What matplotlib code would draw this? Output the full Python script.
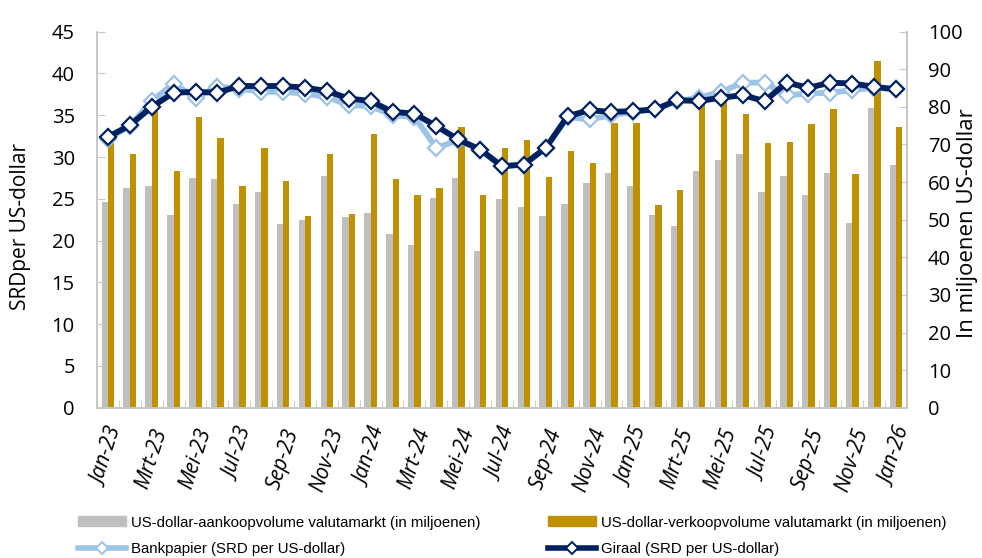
import numpy as np
import matplotlib
matplotlib.use("Agg")
import matplotlib.pyplot as plt
from matplotlib.lines import Line2D
from matplotlib.patches import Patch

plt.rcParams['font.family'] = ['Open Sans', 'DejaVu Sans']

months = ['Jan-23', 'Feb-23', 'Mrt-23', 'Apr-23', 'Mei-23', 'Jun-23', 'Jul-23', 'Aug-23',
          'Sep-23', 'Okt-23', 'Nov-23', 'Dec-23', 'Jan-24', 'Feb-24', 'Mrt-24', 'Apr-24',
          'Mei-24', 'Jun-24', 'Jul-24', 'Aug-24', 'Sep-24', 'Okt-24', 'Nov-24', 'Dec-24',
          'Jan-25', 'Feb-25', 'Mrt-25', 'Apr-25', 'Mei-25', 'Jun-25', 'Jul-25', 'Aug-25',
          'Sep-25', 'Okt-25', 'Nov-25', 'Dec-25', 'Jan-26']

# volumes in miljoenen US-dollar (rechter as)
aankoop = [54.8, 58.3, 59.0, 51.2, 61.0, 60.8, 54.3, 57.4, 48.8, 49.8, 61.7, 50.8,
           51.7, 46.2, 43.4, 55.9, 61.1, 41.7, 55.4, 53.3, 51.1, 54.2, 59.7, 62.3,
           59.0, 51.2, 48.2, 62.9, 65.8, 67.5, 57.4, 61.5, 56.7, 62.5, 49.0, 79.7, 64.5]
verkoop = [71.6, 67.4, 79.0, 62.9, 77.4, 71.6, 58.9, 69.1, 60.3, 51.0, 67.6, 51.5,
           72.7, 60.7, 56.6, 58.3, 74.6, 56.7, 69.1, 71.3, 61.3, 68.4, 65.1, 75.8,
           75.6, 53.9, 57.8, 82.0, 81.8, 78.1, 70.3, 70.6, 75.4, 79.4, 62.1, 92.2, 74.6]

# koersen SRD per US-dollar (linker as)
bankpapier = [32.2, 33.7, 36.7, 38.8, 37.1, 38.4, 38.2, 37.8, 37.8, 37.6, 37.2, 36.2,
              36.1, 35.0, 34.8, 31.1, 32.0, 30.9, 28.9, 29.1, 31.1, 34.8, 34.5, 35.0,
              35.4, 35.7, 36.7, 37.1, 37.8, 38.9, 38.9, 37.4, 37.6, 37.7, 38.0, 38.3, 38.1]
giraal = [32.4, 33.8, 36.0, 37.7, 37.8, 37.7, 38.5, 38.5, 38.5, 38.3, 37.9, 37.0,
          36.7, 35.4, 35.2, 33.7, 32.1, 30.9, 28.9, 29.1, 31.1, 34.9, 35.6, 35.4,
          35.5, 35.7, 36.8, 36.7, 37.1, 37.4, 36.7, 38.9, 38.3, 38.9, 38.8, 38.4, 38.1]

GREY = '#bfbfbf'
GOLD = '#bf9000'
LIGHT = '#9dc3e6'
NAVY = '#002060'
SPINE = '#c8c8c8'

fig = plt.figure(figsize=(9.82, 5.58), dpi=100)
ax = fig.add_axes([97 / 982, 150.3 / 558, 810 / 982, 376 / 558])
ax2 = ax.twinx()

x = np.arange(len(months))
w = 0.29
ax2.bar(x - w / 2, aankoop, width=w, color=GREY, zorder=2)
ax2.bar(x + w / 2, verkoop, width=w, color=GOLD, zorder=2)
ax2.set_ylim(0, 100)
ax2.set_yticks(np.arange(0, 101, 10))

ax.set_zorder(ax2.get_zorder() + 1)
ax.patch.set_visible(False)

ax.plot(x, bankpapier, color=LIGHT, lw=4.2, marker='D', ms=8.5, mfc='white',
        mec=LIGHT, mew=1.6, zorder=3)
ax.plot(x, giraal, color=NAVY, lw=4.2, marker='D', ms=8.5, mfc='white',
        mec=NAVY, mew=1.6, zorder=4)

ax.set_xlim(-0.5, len(months) - 0.5)
ax.set_ylim(0, 45)
ax.set_yticks(np.arange(0, 46, 5))

ax.set_xticks(x[::2])
ax.set_xticklabels(months[::2], rotation=72, fontsize=15, style='italic')
ax.set_xticks(np.arange(-0.5, len(months), 1), minor=True)
ax.tick_params(axis='x', which='major', length=0, pad=13)
ax.tick_params(axis='x', which='minor', direction='in', length=6, color=SPINE)
ax.tick_params(axis='y', direction='in', length=6, color=SPINE, labelsize=14.5, pad=16)
ax2.tick_params(axis='y', direction='in', length=6, color=SPINE, labelsize=14.5, pad=15)

for a in (ax, ax2):
    a.spines['top'].set_visible(False)
    for s in ('left', 'right', 'bottom'):
        a.spines[s].set_color(SPINE)
        a.spines[s].set_linewidth(1.2)

ax.set_ylabel('SRDper US-dollar', fontsize=15)
ax.yaxis.set_label_coords(-0.095, 0.482)
ax2.set_ylabel('In miljoenen US-dollar', fontsize=16, rotation=90)
ax2.yaxis.set_label_coords(1.075, 0.49)
ax2.yaxis.label.set_va('center')
ax.yaxis.label.set_va('center')

handles = [
    Patch(color=GREY),
    Line2D([], [], color=LIGHT, lw=4, marker='D', ms=6, mfc='white', mec=LIGHT, mew=1.4),
    Patch(color=GOLD),
    Line2D([], [], color=NAVY, lw=4, marker='D', ms=6, mfc='white', mec=NAVY, mew=1.4),
]
labels = [
    'US-dollar-aankoopvolume valutamarkt (in miljoenen)',
    'Bankpapier (SRD per US-dollar)',
    'US-dollar-verkoopvolume valutamarkt (in miljoenen)',
    'Giraal (SRD per US-dollar)',
]
fig.legend(handles, labels, ncol=2, loc='upper left', bbox_to_anchor=(64 / 982, 1 - 502 / 558),
           frameon=False, handlelength=3.2, handleheight=0.6, handletextpad=0.35,
           columnspacing=4.5, labelspacing=0.85,
           prop={'family': ['Liberation Sans', 'DejaVu Sans'], 'size': 10.8})

fig.savefig('out.png', dpi=100)
